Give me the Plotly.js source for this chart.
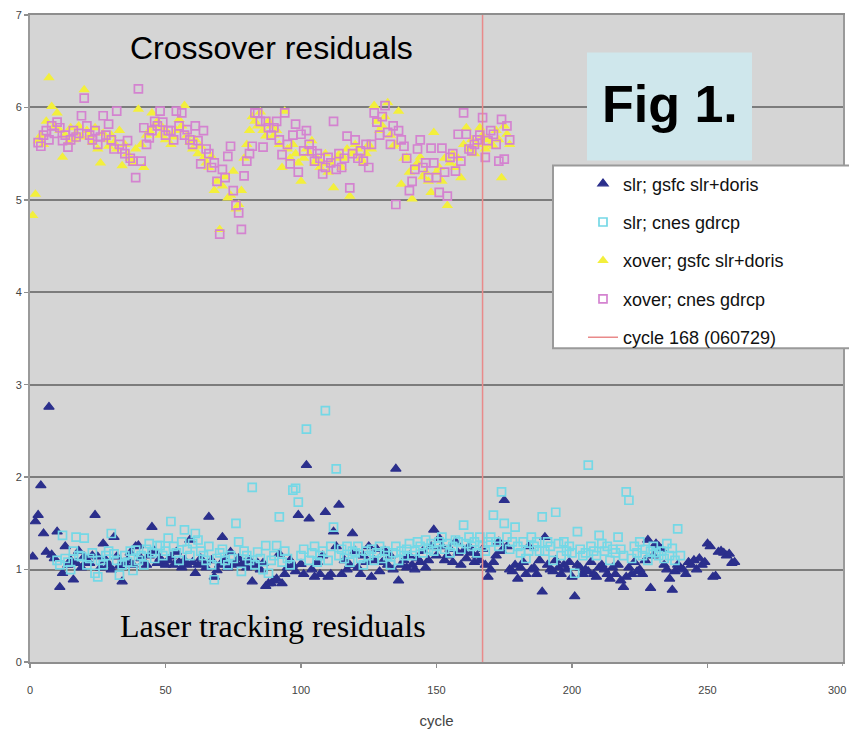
<!DOCTYPE html>
<html>
<head>
<meta charset="utf-8">
<script src="https://cdn.plot.ly/plotly-3.0.1.min.js"></script>
<style>html,body{margin:0;padding:0;background:#fff;}#chart{width:849px;height:737px;}</style>
</head>
<body>
<div id="chart"></div>
<script>
// ---- data ----
const seriesNames = ["slr; gsfc slr+doris", "slr; cnes gdrcp", "xover; gsfc slr+doris", "xover; cnes gdrcp", "cycle 168 (060729)"];

// slr; gsfc slr+doris : cycles 1..260
const slrGsfcFirstCycle = 1;
const slrGsfcValues = [
1.14,1.52,1.59,1.91,1.39,1.19,2.76,1.16,1.12,1.41,
0.81,0.96,1.25,1.05,1.10,0.89,1.07,1.20,1.02,1.14,
1.08,1.07,1.15,1.59,1.14,1.02,1.28,1.10,1.05,1.00,
1.35,1.14,1.04,0.87,1.07,1.10,1.18,1.05,1.25,1.26,
1.12,1.08,1.05,1.15,1.46,1.20,1.07,1.12,1.08,1.05,
1.10,1.14,1.05,1.19,1.08,1.02,1.10,1.05,1.32,1.08,
0.96,1.05,1.12,1.07,1.02,1.57,1.10,0.92,0.99,1.05,
1.35,1.10,1.02,1.19,1.05,1.07,1.12,1.05,1.07,1.02,
1.10,0.87,1.05,1.07,1.00,1.07,0.82,0.85,0.85,0.88,
0.90,1.17,0.85,0.95,1.02,1.10,1.05,0.98,1.59,1.06,
0.95,2.13,1.55,1.00,0.92,1.08,0.95,1.15,1.62,0.92,
0.95,1.41,1.25,1.70,0.95,1.10,1.00,1.05,1.39,1.20,
1.02,0.95,1.15,1.08,1.25,0.92,1.10,1.22,0.98,1.08,
1.20,1.05,1.15,1.00,2.09,0.88,1.05,1.10,1.02,1.15,
1.05,1.00,1.12,1.08,1.20,1.02,1.10,1.25,1.43,1.15,
1.34,1.25,1.10,1.15,1.22,1.08,1.30,1.18,1.05,1.20,
1.12,1.25,1.18,1.08,1.15,1.10,1.22,1.05,0.92,1.00,
1.08,1.15,1.30,1.20,1.75,1.25,1.00,0.98,1.05,0.90,
1.02,1.08,0.95,1.25,1.00,1.02,0.95,1.10,0.76,1.35,
1.05,1.00,0.98,1.10,1.02,0.95,1.05,1.00,1.08,0.92,
0.71,1.05,1.02,0.95,1.00,0.98,1.08,0.95,0.92,1.02,
1.05,1.00,0.95,0.90,1.02,0.95,1.05,0.88,0.81,0.92,
1.02,0.95,1.08,0.98,1.00,0.95,1.10,1.32,0.80,1.15,
1.28,1.25,1.22,1.05,1.00,0.90,0.78,0.98,1.05,1.02,
1.00,0.95,1.08,1.05,1.10,1.00,1.12,1.05,1.08,1.28,
1.25,0.92,0.93,1.19,1.20,1.18,1.15,1.17,1.07,1.08
];

// slr; cnes gdrcp : cycles 10..240
const slrCnesFirstCycle = 10;
const slrCnesValues = [
1.10,1.05,1.37,1.12,1.08,1.00,1.20,1.35,1.15,1.14,
1.34,1.05,1.12,1.18,0.96,0.92,1.10,1.05,1.15,1.20,
1.39,1.17,1.10,0.94,1.05,1.15,1.08,1.20,0.99,1.21,
1.10,1.15,1.05,1.22,1.28,1.18,1.12,1.26,1.26,1.15,
1.20,1.34,1.52,1.25,1.18,1.10,1.30,1.43,1.22,1.15,
1.28,1.39,1.32,1.20,1.15,1.10,1.25,1.05,0.89,1.12,
1.18,1.22,1.10,1.05,1.15,1.12,1.50,1.30,0.98,1.20,
1.15,1.10,1.89,1.05,1.19,1.12,1.00,1.26,0.96,1.10,
1.15,1.26,1.57,1.08,1.20,1.12,1.05,1.86,1.88,1.73,
1.15,1.22,2.52,1.10,1.18,1.25,1.08,1.15,1.20,2.72,
1.10,1.25,1.46,2.09,1.15,1.22,1.12,1.25,1.08,1.20,
1.18,1.25,1.12,1.05,1.20,1.15,1.22,1.10,1.18,1.25,
1.12,1.20,1.15,1.05,1.18,1.25,1.10,1.20,1.15,1.22,
1.28,1.15,1.20,1.30,1.25,1.18,1.32,1.22,1.28,1.20,
1.25,1.30,1.35,1.22,1.28,1.18,1.25,1.32,1.30,1.22,
1.48,1.28,1.35,1.25,1.30,1.18,1.35,1.25,1.20,1.30,
1.35,1.59,1.30,1.25,1.84,1.50,1.35,1.22,1.30,1.46,
1.25,1.18,1.30,1.12,1.20,1.35,1.25,1.30,1.20,1.57,
1.20,1.30,1.25,1.10,1.62,1.28,1.15,1.30,1.20,1.25,
1.18,0.96,1.41,1.22,1.15,1.18,2.13,1.25,1.20,1.15,
1.37,1.28,1.20,1.25,1.10,1.22,1.18,1.35,1.22,1.15,
1.84,1.75,1.12,1.25,1.18,1.30,1.15,1.22,1.10,1.20,
1.25,1.18,1.15,1.20,1.12,1.28,1.15,1.23,1.10,1.44,1.15
];

// xover; gsfc slr+doris : cycles 1..177
const xoverGsfcFirstCycle = 1;
const xoverGsfcValues = [
4.83,5.06,5.64,5.70,5.60,5.85,6.32,6.01,5.80,5.94,
5.75,5.46,5.70,5.62,5.78,5.65,5.72,5.80,5.68,6.19,
5.75,5.70,5.62,5.78,5.55,5.40,5.72,5.65,5.58,5.70,
5.62,5.55,5.75,5.37,5.60,5.50,5.45,5.40,5.55,5.98,
5.60,5.35,5.70,5.75,5.94,5.80,5.85,5.70,5.78,5.65,
5.72,5.60,5.68,5.75,5.87,5.80,6.02,5.70,5.62,5.55,
5.65,5.50,5.58,5.45,5.40,5.35,5.47,5.10,5.20,4.68,
5.15,5.25,5.02,5.05,5.31,4.90,4.95,5.10,5.45,5.60,
5.75,5.90,5.85,5.80,5.95,5.75,5.69,5.85,5.80,5.70,
5.75,5.60,5.35,5.96,5.55,5.45,5.60,5.50,5.40,5.20,
5.45,5.55,5.50,5.64,5.40,5.45,5.35,5.39,5.50,5.30,
5.40,5.13,5.45,5.49,5.35,5.45,5.55,5.04,5.50,5.60,
5.55,5.45,5.40,5.50,5.60,5.55,6.02,5.85,5.75,5.80,
5.90,6.05,5.70,5.58,5.60,5.96,5.17,5.45,5.46,5.30,
5.01,5.35,5.40,5.46,5.25,5.30,5.20,5.08,5.73,5.30,
5.35,5.20,5.45,4.94,5.40,5.50,5.35,5.45,5.24,5.60,
5.78,5.55,5.65,5.50,5.60,5.78,5.70,5.55,5.65,5.60,
5.58,5.75,5.65,5.24,5.80,5.71,5.60
];

// xover; cnes gdrcp : cycles 3..177
const xoverCnesFirstCycle = 3;
const xoverCnesValues = [
5.62,5.58,5.70,5.75,5.65,5.80,5.72,5.84,
5.78,5.64,5.70,5.57,5.65,5.75,5.68,5.72,5.91,6.10,
5.80,5.70,5.65,5.75,5.60,5.68,5.91,5.70,5.82,5.65,
5.55,5.96,5.60,5.55,5.50,5.64,5.45,5.42,5.24,6.20,
5.42,5.78,5.60,5.67,5.75,5.85,5.80,5.96,5.84,5.70,
5.75,5.75,5.65,5.96,5.80,5.94,5.70,5.76,5.65,5.60,
5.80,5.64,5.39,5.75,5.55,5.50,5.35,5.40,5.20,4.63,
5.33,5.24,5.47,5.58,5.10,4.94,4.86,4.68,5.26,5.42,
5.50,5.58,5.94,5.94,5.85,5.57,5.85,5.78,5.70,5.78,
5.85,5.65,5.49,5.94,5.60,5.39,5.70,5.82,5.30,5.71,
5.53,5.75,5.60,5.53,5.42,5.50,5.45,5.28,5.35,5.46,
5.40,5.85,5.33,5.50,5.35,5.45,5.69,5.13,5.50,5.65,
5.45,5.53,5.42,5.60,5.35,5.60,5.94,5.84,5.70,5.90,
6.02,5.73,5.60,5.80,4.95,5.75,5.65,5.58,5.45,5.10,
5.20,5.33,5.55,5.65,5.35,5.40,5.24,5.56,5.40,5.24,
5.08,5.56,5.30,5.04,5.46,5.50,5.31,5.71,5.42,5.94,
5.71,5.55,5.53,5.60,5.65,5.70,5.89,5.46,5.64,5.75,
5.71,5.60,5.42,5.87,5.44,5.80,5.65
];

// vertical marker line (drawn where it sits in the picture)
const markerLineCycle = [167, 167];
const markerLineRange = [0, 7];

const xTickVals = [0, 50, 100, 150, 200, 250];
const xTickText = ["0", "50", "100", "150", "200", "250"];
const xLastTick = 300;
const yTickVals = [0, 1, 2, 3, 4, 5, 6, 7];

// ---- build traces ----
function cyclesFor(first, vals) { return vals.map((v, i) => first + i); }

const traces = [
  {
    name: seriesNames[0], legendgroup: "g0", type: "scatter", mode: "markers",
    x: cyclesFor(slrGsfcFirstCycle, slrGsfcValues), y: slrGsfcValues,
    marker: {symbol: "triangle-up", size: 9, color: "#2b2f8c", line: {width: 1.2, color: "#2b2f8c"}}
  },
  {
    name: seriesNames[1], legendgroup: "g1", type: "scatter", mode: "markers",
    x: cyclesFor(slrCnesFirstCycle, slrCnesValues), y: slrCnesValues,
    marker: {symbol: "square-open", size: 8, color: "#74d8e6", line: {width: 1.7, color: "#74d8e6"}}
  },
  {
    name: seriesNames[2], legendgroup: "g2", type: "scatter", mode: "markers",
    x: cyclesFor(xoverGsfcFirstCycle, xoverGsfcValues), y: xoverGsfcValues,
    marker: {symbol: "triangle-up", size: 10, color: "#f3ef3c", line: {width: 0}}
  },
  {
    name: seriesNames[3], legendgroup: "g3", type: "scatter", mode: "markers",
    x: cyclesFor(xoverCnesFirstCycle, xoverCnesValues), y: xoverCnesValues,
    marker: {symbol: "square-open", size: 8, color: "#d483d0", line: {width: 1.7, color: "#d483d0"}}
  },
  {
    name: seriesNames[4], legendgroup: "g4", type: "scatter", mode: "lines",
    x: markerLineCycle, y: markerLineRange,
    line: {color: "#e98a8a", width: 1.5}
  }
];

const L = 30, R = 843, T = 14.5, B = 662;
const W = R - L, H = B - T;
function px(xp) { return (xp - L) / W; }
function py(yp) { return (B - yp) / H; }

const layout = {
  width: 849, height: 737,
  margin: {l: L, r: 849 - R, t: T, b: 737 - B},
  paper_bgcolor: "#ffffff",
  plot_bgcolor: "#d5d5d5",
  font: {family: "Liberation Sans, Arial, sans-serif", color: "#333"},
  showlegend: true,
  legend: {
    x: px(583), y: py(165), xanchor: "left", yanchor: "top",
    bgcolor: "rgba(0,0,0,0)", borderwidth: 0,
    font: {size: 18, color: "#111", family: "Liberation Sans, Arial, sans-serif"},
    tracegroupgap: 12, traceorder: "grouped"
  },
  xaxis: {
    range: [0, 300], tickvals: xTickVals, ticktext: xTickText,
    showgrid: false, zeroline: false,
    showline: true, linecolor: "#8e8e8e", linewidth: 2, mirror: true,
    ticks: "outside", ticklen: 4, tickcolor: "#8e8e8e", tickwidth: 1.5,
    ticklabelstandoff: 13,
    tickfont: {size: 11, color: "#444"},
    title: {text: "cycle", font: {size: 15, color: "#444"}, standoff: 20}
  },
  yaxis: {
    range: [0, 7], tickvals: yTickVals,
    showgrid: true, gridcolor: "#7c7c7c", gridwidth: 2,
    zeroline: false,
    showline: true, linecolor: "#9a9a9a", linewidth: 2, mirror: true,
    ticks: "outside", ticklen: 4, tickcolor: "#8e8e8e", tickwidth: 1.5,
    tickfont: {size: 11, color: "#444"}
  },
  shapes: [
    // tick mark at the last x position
    {type: "line", xref: "x", yref: "paper", x0: xLastTick, x1: xLastTick, y0: 0, y1: -4 / H,
     line: {color: "#8e8e8e", width: 1.5}},
    // legend box
    {type: "rect", xref: "paper", yref: "paper", x0: px(553), x1: px(870), y0: py(348), y1: py(165),
     fillcolor: "#ffffff", line: {color: "#9a9a9a", width: 2}, layer: "above"},
    // "Fig 1." box
    {type: "rect", xref: "paper", yref: "paper", x0: px(587), x1: px(752), y0: py(160), y1: py(52),
     fillcolor: "#cfe7ec", line: {width: 0}, layer: "above"}
  ],
  annotations: [
    {text: String(xLastTick), xref: "paper", yref: "paper", x: px(848), y: py(690),
     xanchor: "right", yanchor: "middle", showarrow: false,
     font: {size: 11, color: "#444"}},
    {text: "Crossover residuals", xref: "paper", yref: "paper", x: px(128), y: py(48),
     xanchor: "left", yanchor: "middle", showarrow: false,
     font: {family: "Liberation Sans, Arial, sans-serif", size: 32, color: "#000"}},
    {text: "Laser tracking residuals", xref: "paper", yref: "paper", x: px(118), y: py(626),
     xanchor: "left", yanchor: "middle", showarrow: false,
     font: {family: "Liberation Serif, Times New Roman, serif", size: 32, color: "#000"}},
    {text: "<b>Fig 1.</b>", xref: "paper", yref: "paper", x: px(670), y: py(104),
     xanchor: "center", yanchor: "middle", showarrow: false,
     font: {family: "Liberation Sans, Arial, sans-serif", size: 52, color: "#000"}}
  ]
};

Plotly.newPlot("chart", traces, layout, {displayModeBar: false, staticPlot: true});
</script>
</body>
</html>
